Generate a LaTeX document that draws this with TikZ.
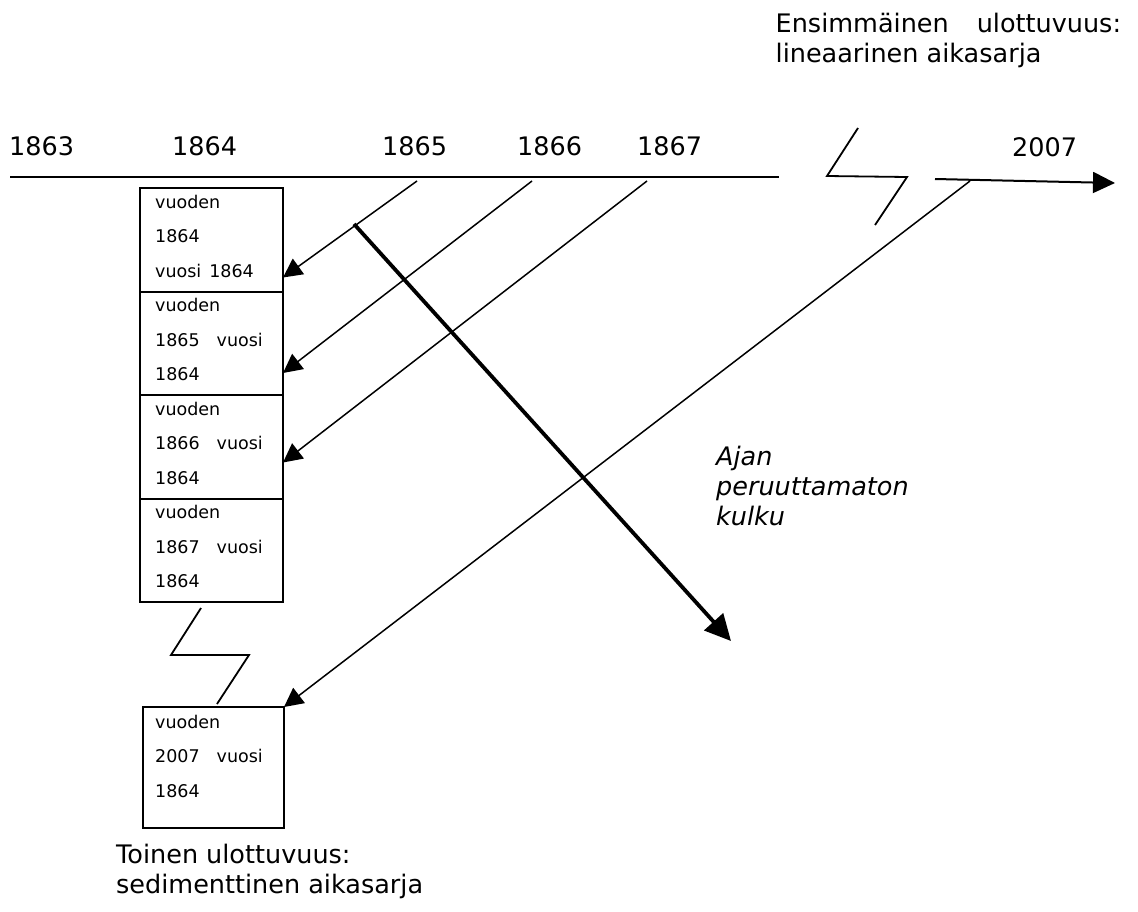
\documentclass[tikz,border=0pt]{standalone}
\usepackage{fontspec}
\setmainfont{DejaVu Sans}
\usetikzlibrary{positioning,arrows.meta,calc}

\begin{document}
\begin{tikzpicture}[
  x=1pt,y=-1pt,
  yearbox/.style={draw,line width=2pt,minimum width=143pt,minimum height=103.5pt,inner sep=0pt,outer sep=0pt},
  boxtext/.style={anchor=north west,align=left,inner sep=0pt,font=\fontsize{17.5}{34.5}\selectfont},
  year/.style={anchor=base west,inner sep=0pt,font=\fontsize{25.5}{30}\selectfont},
  note/.style={anchor=north west,align=left,inner sep=0pt,font=\fontsize{25.5}{30}\selectfont},
  ar/.style={-{Triangle[length=19pt,width=19pt]},line width=1.5pt},
  bigar/.style={-{Triangle[length=26pt,width=25pt]},line width=3.8pt},
  zig/.style={line width=1.8pt},
]
  \useasboundingbox (0,0) rectangle (1138,911);
  % first dimension: the time line
  \coordinate (tlL) at (10,177);
  \coordinate (tlR) at (779,177);
  \draw[line width=2.2pt] (tlL) -- (tlR);
  \node[year] (y1863) at (9,155) {1863};
  \node[year] (y1864) at (172,155) {1864};
  \node[year] (y1865) at (382,155) {1865};
  \node[year] (y1866) at (517,155) {1866};
  \node[year] (y1867) at (637,155) {1867};
  \node[year] (y2007) at (1012,156) {2007};
  \draw[zig] (858,128) -- (827,176) -- (907,177) -- (875,225);
  \coordinate (nowL) at (935,179);
  \coordinate (nowR) at (1115,183);
  \draw[-{Triangle[length=22pt,width=21pt]},line width=2pt] (nowL) -- (nowR);
  \node[note] (first) at (775.5,13) {Ensimm\"ainen\hspace{28pt}ulottuvuus:\\lineaarinen aikasarja};
  % second dimension: the stack of yearbooks
  \node[yearbox,anchor=north west] (b1864) at (140,188) {};
  \node[yearbox,below=0pt of b1864] (b1865) {};
  \node[yearbox,below=0pt of b1865] (b1866) {};
  \node[yearbox,below=0pt of b1866] (b1867) {};
  \node[boxtext] (t1864) at ($(b1864.north west)+(15,6.5)$) {vuoden\\1864\\vuosi\hspace{8pt}1864};
  \node[boxtext] (t1865) at ($(b1865.north west)+(15,6.5)$) {vuoden\\1865\hspace{17pt}vuosi\\1864};
  \node[boxtext] (t1866) at ($(b1866.north west)+(15,6.5)$) {vuoden\\1866\hspace{17pt}vuosi\\1864};
  \node[boxtext] (t1867) at ($(b1867.north west)+(15,6.5)$) {vuoden\\1867\hspace{17pt}vuosi\\1864};
  \draw[zig] (201,608) -- (171,655) -- (249,655) -- (217,704);
  \node[yearbox,anchor=north west,minimum width=141pt,minimum height=121pt] (b2007) at (143,707) {};
  \node[boxtext] (t2007) at ($(b2007.north west)+(12,7.5)$) {vuoden\\2007\hspace{17pt}vuosi\\1864};
  \node[note] (second) at (116,844) {Toinen ulottuvuus:\\sedimenttinen aikasarja};
  % arrows from the time line into the boxes
  \coordinate (s1865) at (417,181);
  \coordinate (s1866) at (532,181);
  \coordinate (s1867) at (647,181);
  \coordinate (s2007) at (970,181);
  \draw[ar] (s1865) -- ($(b1864.south east)+(0,-14)$);
  \draw[ar] (s1866) -- ($(b1865.south east)+(0,-22)$);
  \draw[ar] (s1867) -- ($(b1866.south east)+(0,-36)$);
  \draw[ar] (s2007) -- (b2007.north east);
  % irreversible flow of time
  \coordinate (flowA) at (354,224);
  \coordinate (flowB) at (731,641);
  \draw[bigar] (flowA) -- (flowB);
  \node[note,font=\fontsize{25.5}{30}\selectfont\itshape] (flow) at (716,446) {Ajan\\peruuttamaton\\kulku};
\end{tikzpicture}
\end{document}
